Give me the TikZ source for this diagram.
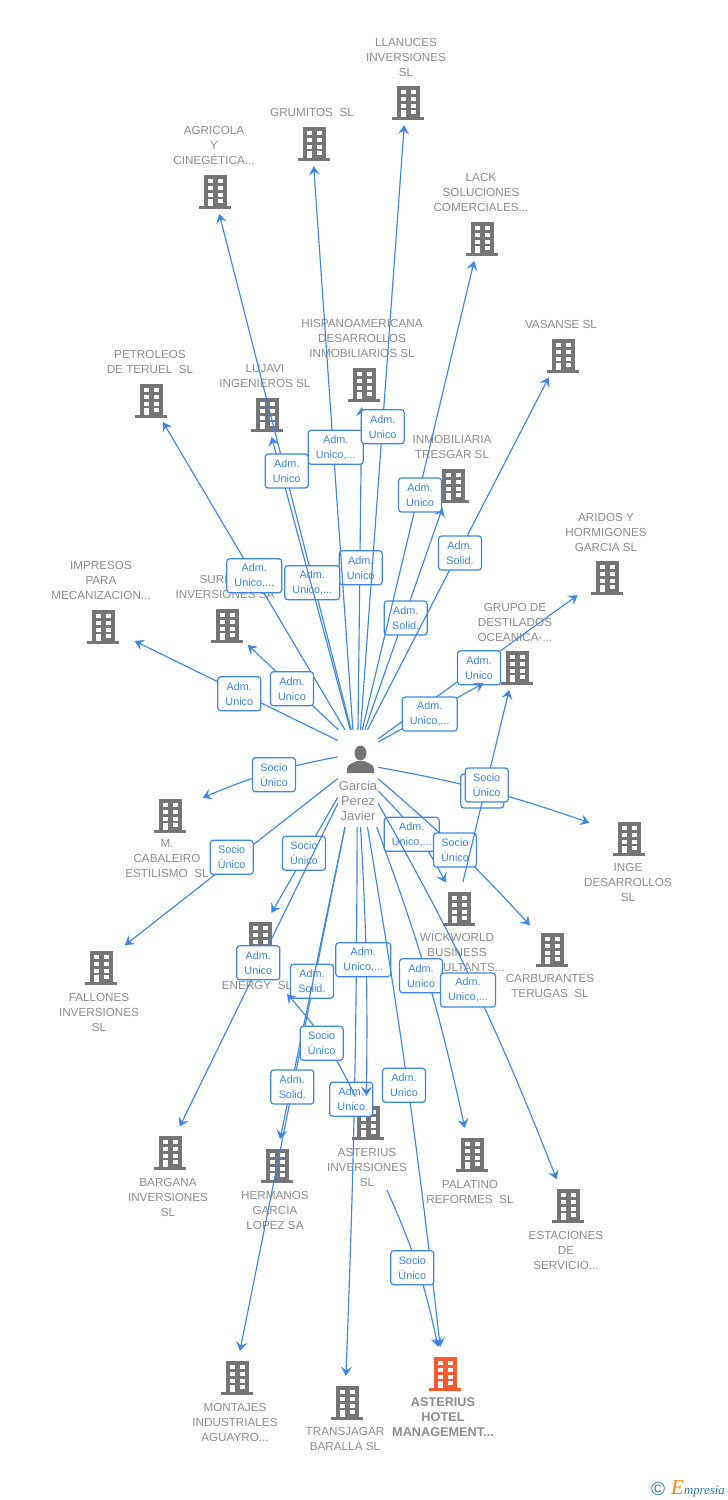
\documentclass[tikz,border=0pt]{standalone}
\usepackage{fontspec}
\setmainfont{Liberation Sans}
\newfontfamily\logofont{Liberation Serif}
\usetikzlibrary{arrows.meta,shapes.geometric}
\definecolor{linkblue}{HTML}{3F86E3}
\definecolor{taskblue}{HTML}{3C82DE}
\definecolor{textgray}{HTML}{8C8C8C}
\definecolor{iconorange}{HTML}{FF5A2B}
\definecolor{icongray}{HTML}{757575}
\definecolor{logoteal}{HTML}{2F7A8E}
\tikzset{
  company/.style={ellipse,minimum width=90,minimum height=49,inner sep=0},
  cotext/.style={text=textgray,align=center,inner sep=0,font=\fontsize{11.7}{15}\selectfont},
  link/.style={linkblue,line width=1.15,-{Stealth[length=9,width=11,inset=3.5]}},
  tag/.style={draw=linkblue,fill=white,line width=1.2,rounded corners=3,text=taskblue,align=center,
    inner sep=0,minimum width=43,minimum height=34,font=\fontsize{10.8}{15}\selectfont},
  wide/.style={tag,minimum width=55},
  bldg/.pic={
    \fill[pic actions] (-11.5,-16.5) rectangle (11.5,15);
    \fill[pic actions] (-16,15) rectangle (16,17.5);
    \foreach \wy in {-12.5,-5.5,1.5}{
      \fill[white] (-7.5,\wy) rectangle (-2.5,\wy+4.3);
      \fill[white] (2.5,\wy) rectangle (7.5,\wy+4.3);
    }
    \fill[white] (-7.5,8) rectangle (-2.5,15);
    \fill[white] (2.5,8) rectangle (7.5,12.3);
  }
}
\begin{document}
\begin{tikzpicture}[x=1pt,y=-1pt]
  \useasboundingbox (0,0) rectangle (728,1500);
  % companies
  \foreach \cname/\cx/\cy in {agricola/215/191,grumitos/314/143,llanuces/408/102,lack/482/238,
      vasanse/563/355,hispano/364/384,petroleos/151/400,lujavi/267/414,tresgar/453/485,
      aridos/607/577,impresos/103/626,surman/227/625,grupo/517/667,inge/629/838,
      cabaleiro/170/815,wickworld/459/908,carburantes/552/949,fallones/101/967,energy/260/938,
      bargana/170/1152,hermanos/277/1165,asteriusinv/368/1122,palatino/472/1154,
      estaciones/568/1205,montajes/237/1377,transjagar/347/1402}{
    \node[company] (\cname) at (\cx-2,\cy-1.5) {};
    \pic[fill=icongray] at (\cx,\cy) {bldg};
  }
  \node[company] (hotel) at (443,1371.5) {};
  \pic[fill=iconorange] at (445,1373) {bldg};
  % names
  \node[cotext] (agricola-t) at (214,145) {AGRICOLA\\Y\\CINEGETICA...};
  \node[cotext] (grumitos-t) at (312,112) {GRUMITOS~~SL};
  \node[cotext] (llanuces-t) at (406,57) {LLANUCES\\INVERSIONES\\SL};
  \node[cotext] (lack-t) at (481,192) {LACK\\SOLUCIONES\\COMERCIALES...};
  \node[cotext] (vasanse-t) at (561,324) {VASANSE SL};
  \node[cotext] (hispano-t) at (362,338) {HISPANOAMERICANA\\DESARROLLOS\\INMOBILIARIOS SL};
  \node[cotext] (petroleos-t) at (150,362) {PETROLEOS\\DE TERUEL~~SL};
  \node[cotext] (lujavi-t) at (265,376) {LUJAVI\\INGENIEROS SL};
  \node[cotext] (tresgar-t) at (452,447) {INMOBILIARIA\\TRESGAR SL};
  \node[cotext] (aridos-t) at (606,532) {ARIDOS Y\\HORMIGONES\\GARCIA SL};
  \node[cotext] (impresos-t) at (101,580) {IMPRESOS\\PARA\\MECANIZACION...};
  \node[cotext] (surman-t) at (225,587) {SURMAN\\INVERSIONES SA};
  \node[cotext] (grupo-t) at (515,622) {GRUPO DE\\DESTILADOS\\OCEANICA-...};
  \node[cotext] (inge-t) at (628,882) {INGE\\DESARROLLOS\\SL};
  \node[cotext] (cabaleiro-t) at (167,859) {M.\\CABALEIRO\\ESTILISMO~~SL};
  \node[cotext] (wickworld-t) at (457,952) {WICKWORLD\\BUSINESS\\CONSULTANTS...};
  \node[cotext] (carburantes-t) at (550,986) {CARBURANTES\\TERUGAS~~SL};
  \node[cotext] (fallones-t) at (99,1012) {FALLONES\\INVERSIONES\\SL};
  \node[cotext] (energy-t) at (257,985) {ENERGY~~SL};
  \node[cotext] (bargana-t) at (168,1197) {BARGANA\\INVERSIONES\\SL};
  \node[cotext] (hermanos-t) at (275,1210) {HERMANOS\\GARCIA\\LOPEZ SA};
  \node[cotext] (asteriusinv-t) at (367,1167) {ASTERIUS\\INVERSIONES\\SL};
  \node[cotext] (palatino-t) at (470,1191.5) {PALATINO\\REFORMES~~SL};
  \node[cotext] (estaciones-t) at (566,1250) {ESTACIONES\\DE\\SERVICIO...};
  \node[cotext] (montajes-t) at (235,1422) {MONTAJES\\INDUSTRIALES\\AGUAYRO...};
  \node[cotext] (transjagar-t) at (345,1438.5) {TRANSJAGAR\\BARALLA SL};
  \node[cotext,font=\fontsize{12.7}{15}\selectfont\bfseries] (hotel-t) at (443,1417) {ASTERIUS\\HOTEL\\MANAGEMENT...};
  % the person
  \node[minimum width=40,minimum height=97,inner sep=0] (garcia) at (358,778.5) {};
  \fill[icongray] (360.5,753) ellipse [x radius=6,y radius=7.5];
  \fill[icongray] (347,773) -- (347,769) .. controls (347,764) and (353,763) .. (357,761)
    -- (364,761) .. controls (368,763) and (374,764) .. (374,769) -- (374,773) -- cycle;
  \node[cotext,font=\fontsize{13}{15}\selectfont] (garcia-t) at (358,801) {Garcia\\Perez\\Javier};
  \coordinate (energy-in) at (287,994);
  \coordinate (asteriusinv-out) at (387,1190);
  % upwards
  \draw[link] (garcia.90) -- (hispano);
  \node[tag] (hispano-l) at (360.7,567.7) {Adm.\\Unico};
  \draw[link] (garcia.82.8) -- (tresgar);
  \node[tag] (tresgar-l) at (405.7,618) {Adm.\\Solid.};
  \draw[link] (garcia.96) -- (grumitos);
  \node[wide] (grumitos-l) at (335.7,447.3) {Adm.\\Unico,...};
  \draw[link] (garcia.87.6) -- (llanuces);
  \node[tag] (llanuces-l) at (382.7,426.7) {Adm.\\Unico};
  \draw[link] (garcia.85.8) -- (lack);
  \node[tag] (lack-l) at (420,495) {Adm.\\Unico};
  \draw[link] (garcia.79.3) -- (vasanse);
  \node[tag] (vasanse-l) at (460,553) {Adm.\\Solid.};
  \draw[link] (garcia.105.6) -- (petroleos);
  \node[wide] (petroleos-l) at (254.3,575.7) {Adm.\\Unico,...};
  \draw[link] (garcia.98.4) -- (agricola);
  \node[wide] (agricola-l) at (312.3,582.7) {Adm.\\Unico,...};
  \draw[link] (garcia.99.6) -- (lujavi);
  \node[tag] (lujavi-l) at (286.7,471) {Adm.\\Unico};
  % left
  \draw[link] (garcia.118.7) -- (impresos);
  \node[tag] (impresos-l) at (239.3,693.7) {Adm.\\Unico};
  \draw[link] (garcia.112.8) -- (surman);
  \node[tag] (surman-l) at (292,688.7) {Adm.\\Unico};
  \draw[link] (garcia.133) to[bend right=6] (cabaleiro);
  \node[tag] (cabaleiro-l) at (274,774.7) {Socio\\Único};
  \draw[link] (garcia.180) -- (fallones);
  \node[tag] (fallones-l) at (231.7,857.3) {Socio\\Único};
  \draw[link] (garcia.-137.2) -- (energy);
  \node[tag] (energy-l) at (304,853.3) {Socio\\Único};
  \draw[link] (garcia.-129.2) -- (bargana);
  \node[tag] (bargana-l) at (258.3,962.7) {Adm.\\Unico};
  % downwards
  \draw[link] (garcia.-105.3) -- (montajes);
  \node[tag] (montajes-l) at (312,981.3) {Adm.\\Solid.};
  \draw[link] (garcia.-105.3) -- (hermanos);
  \node[tag] (hermanos-l) at (292.3,1087) {Adm.\\Solid.};
  \draw[link] (garcia.-91.6) to[bend left=1] (transjagar);
  \node[tag] (transjagar-l) at (351.3,1099.3) {Adm.\\Unico};
  \draw[link] (asteriusinv) to[bend right=8] (energy-in);
  \node[tag] (energy-l2) at (321.7,1043.3) {Socio\\Único};
  \draw[link] (garcia.-87.6) to[bend left=2] (asteriusinv);
  \node[wide] (asteriusinv-l) at (363.3,959.7) {Adm.\\Unico,...};
  \draw[link] (garcia.-79.3) to[bend left=1.5] (hotel);
  \node[tag] (hotel-l) at (404,1085.3) {Adm.\\Unico};
  \draw[link] (asteriusinv-out) to[bend left=6] (hotel);
  \node[tag] (hotel-l2) at (412.3,1267.7) {Socio\\Único};
  \draw[link] (garcia.-69.2) to[bend left=4] (palatino);
  \node[tag] (palatino-l) at (421,975.7) {Adm.\\Unico};
  % right
  \draw[link] (garcia.-32) to[bend left=9] (wickworld);
  \node[wide] (wickworld-l) at (411.7,834.3) {Adm.\\Unico,...};
  \draw[link] (garcia.-51.9) to[bend left=4] (estaciones);
  \node[wide] (estaciones-l) at (468,990) {Adm.\\Unico,...};
  \draw[link] (garcia.-1.4) to[bend left=3.5] (carburantes);
  \node[tag] (carburantes-l) at (455,850) {Socio\\Único};
  \draw[link] (garcia.29.9) to[bend left=4.5] (inge);
  \node[tag] (inge-l) at (482.3,791) {};
  \draw[link] (wickworld) -- (grupo);
  \node[tag] (grupo-l2) at (486.7,785) {Socio\\Único};
  \draw[link] (garcia.63.1) -- (aridos);
  \node[tag] (aridos-l) at (479,667.7) {Adm.\\Unico};
  \draw[link] (garcia.61.9) -- (grupo);
  \node[wide] (grupo-l) at (429.7,714) {Adm.\\Unico,...};
  % logo
  \node[inner sep=0,text=logoteal,font=\fontsize{19}{19}\selectfont] (copy-t) at (658,1489) {©};
  \node[inner sep=0,anchor=west,text=logoteal,font=\fontsize{12.8}{15}\logofont\itshape] (empresia-t) at (671,1489)
    {\textcolor{orange}{\fontsize{21}{15}\selectfont E}mpresia};
\end{tikzpicture}
\end{document}
